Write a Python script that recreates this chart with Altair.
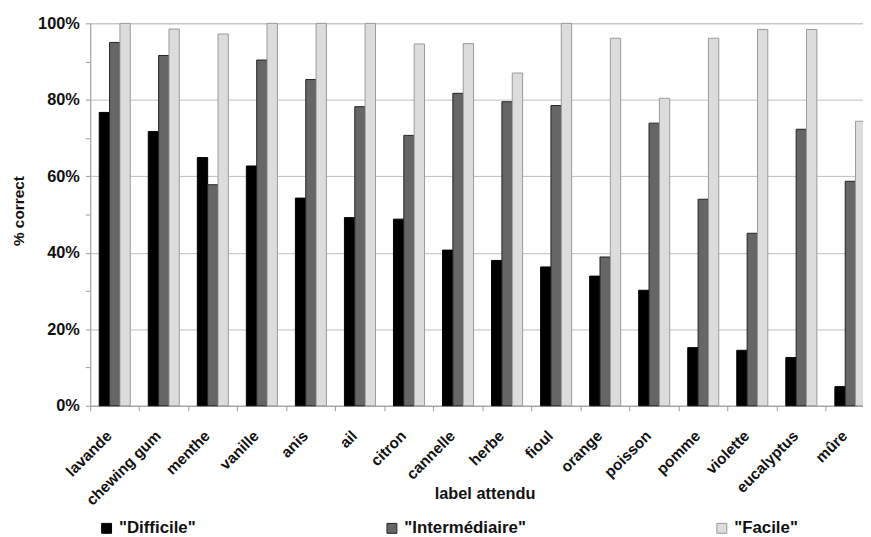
import altair as alt
import pandas as pd

categories = ["lavande", "chewing gum", "menthe", "vanille", "anis", "ail", "citron",
              "cannelle", "herbe", "fioul", "orange", "poisson", "pomme", "violette",
              "eucalyptus", "mûre"]
series = ['"Difficile"', '"Intermédiaire"', '"Facile"']
difficile = [76.7, 71.7, 64.9, 62.7, 54.3, 49.2, 48.8, 40.7, 38.0, 36.3, 33.9, 30.2, 15.2, 14.5, 12.6, 5.0]
intermediaire = [95.0, 91.6, 57.8, 90.4, 85.3, 78.2, 70.7, 81.7, 79.5, 78.5, 38.9, 73.9, 54.0, 45.1, 72.3, 58.7]
facile = [100, 98.5, 97.2, 100, 100, 100, 94.6, 94.7, 87.0, 100, 96.1, 80.4, 96.1, 98.4, 98.4, 74.4]
y_ticks = [0, 10, 20, 30, 40, 50, 60, 70, 80, 90, 100]

fills = ["#000000", "#666666", "#dcdcdc"]
strokes = ["#000000", "#222222", "#9a9a9a"]

rows = []
for s, vals in zip(series, [difficile, intermediaire, facile]):
    for c, v in zip(categories, vals):
        rows.append({"cat": c, "series": s, "value": v})
df = pd.DataFrame(rows)

FONT = "Liberation Sans"

legend = alt.Legend(
    title=None, orient="none", legendX=8, legendY=501, direction="horizontal",
    symbolType="square", symbolSize=100, symbolStrokeWidth=1,
    labelFont=FONT, labelFontSize=17, labelFontWeight="bold", labelColor="#111111",
    labelOffset=4, columnPadding=189, padding=0, labelLimit=300,
)

chart = alt.Chart(df).mark_bar(strokeWidth=1, clip=False).encode(
    x=alt.X(
        "cat:N", sort=categories,
        scale=alt.Scale(range=[0, 792], paddingInner=0, paddingOuter=0),
        axis=alt.Axis(
            title="label attendu", titleFont=FONT, titleFontSize=16.5, titleFontWeight="bold",
            titleColor="#111111", titleX=398, titleY=89, titleBaseline="middle", titleAlign="center",
            bandPosition=0, labelOffset=-2, labelAngle=-45, labelAlign="right",
            labelBaseline="alphabetic", labelPadding=26, labelFont=FONT, labelFontSize=15.5,
            labelFontWeight="bold", labelColor="#111111", labelOverlap=False,
            domainColor="#9a9a9a", tickColor="#9a9a9a", tickSize=5, grid=False,
        ),
    ),
    xOffset=alt.XOffset("series:N", sort=series,
                        scale=alt.Scale(domain=series, paddingInner=0, paddingOuter=0.87)),
    y=alt.Y(
        "value:Q",
        scale=alt.Scale(domain=[0, 100], nice=False),
        axis=alt.Axis(
            title="% correct", titleFont=FONT, titleFontSize=15.5, titleFontWeight="bold",
            titleColor="#111111", titleX=-72, titleY=189, titleAngle=-90,
            titleAlign="center", titleBaseline="middle",
            values=y_ticks,
            labelExpr="datum.value % 20 === 0 ? datum.value + '%' : ''",
            labelFont=FONT, labelFontSize=16.5, labelFontWeight="bold", labelColor="#111111",
            labelPadding=6, tickSize=5, tickColor="#9a9a9a", domainColor="#9a9a9a",
            gridColor="#bdbdbd",
            gridOpacity={"condition": {"test": "datum.value % 20 === 0", "value": 1}, "value": 0},
        ),
    ),
    color=alt.Color("series:N", sort=series,
                    scale=alt.Scale(domain=series, range=fills), legend=legend),
    stroke=alt.Stroke("series:N", sort=series,
                      scale=alt.Scale(domain=series, range=strokes), legend=legend),
).properties(
    width=780, height=386,
    padding={"left": 83, "top": 13, "right": 0, "bottom": 130},
    autosize=alt.AutoSizeParams(type="none"),
).configure_view(stroke=None).configure(background="white")

chart.save("out.html", embed_options={"renderer": "svg", "actions": False})
